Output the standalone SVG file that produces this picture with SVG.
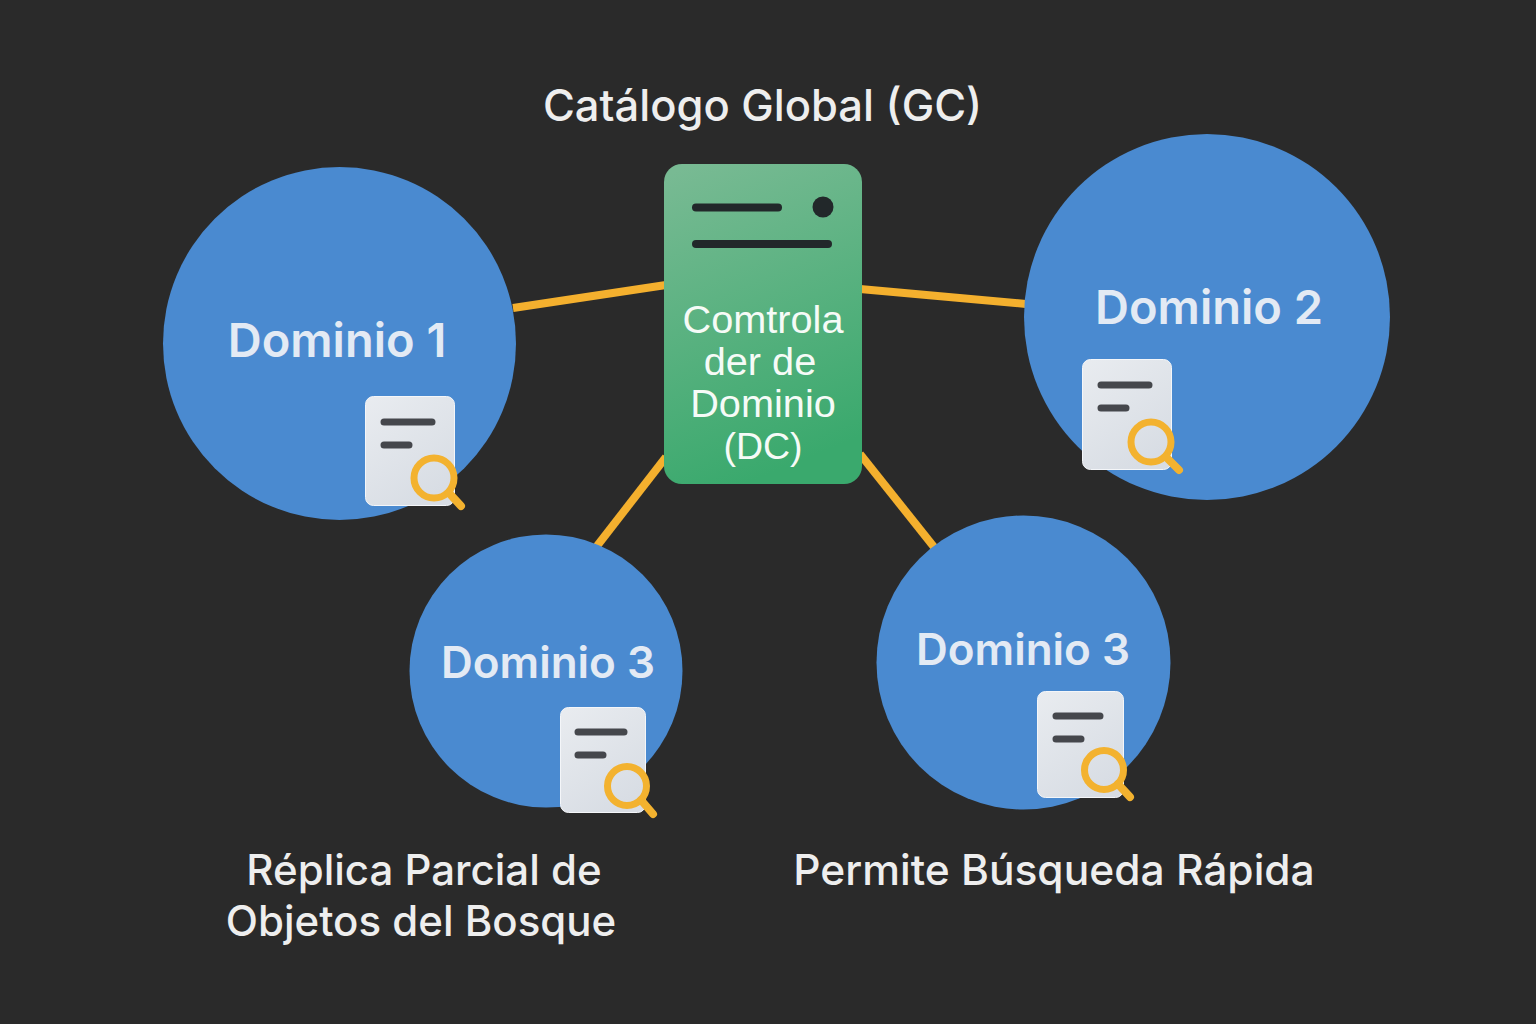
<svg xmlns="http://www.w3.org/2000/svg" width="1536" height="1024" viewBox="0 0 1536 1024">
<style>
text{font-family:Inter,"Noto Sans",sans-serif;text-anchor:middle}
.c{fill:#4a8ad0}
.d{fill:#e3eaf4;font-size:47px;font-weight:600}
.s{font-size:44px}
.l{fill:#eeeeee;font-size:42px;font-weight:500}
.w{fill:#f6fbf7;font-size:39.7px;font-family:"Liberation Sans",Arial,sans-serif}
.p{fill:url(#q);stroke:#f4f6f9;stroke-width:1}
.b{stroke:#45474c;stroke-width:7;stroke-linecap:round;fill:none}
.m{stroke:#f3b22f;stroke-width:8;fill:none;stroke-linecap:round}
.e{stroke:#f3b22f;stroke-width:7;fill:none}
.k{stroke:#22282a;stroke-width:8;stroke-linecap:round}
</style>
<defs>
<linearGradient id="g" x1="0.15" y1="0" x2="0.4" y2="1"><stop offset="0" stop-color="#78ba93"/><stop offset="1" stop-color="#3aa96d"/></linearGradient>
<linearGradient id="q" x1="0" y1="0" x2="0.6" y2="1"><stop offset="0" stop-color="#e9ecf0"/><stop offset="1" stop-color="#d8dde4"/></linearGradient>
</defs>
<rect width="1536" height="1024" fill="#2a2a2a"/>
<g id="connectors" stroke="#f4b02e" stroke-width="8" fill="none">
<line x1="513" y1="308" x2="666" y2="285"/>
<line x1="860" y1="289" x2="1026" y2="304"/>
<line x1="597" y1="546" x2="666" y2="457"/>
<line x1="860" y1="454" x2="934" y2="547"/>
</g>
<text class="l" x="762.500" y="121" style="font-size:43.500px">Catálogo Global (GC)</text>
<g id="dc">
<rect x="664" y="164" width="198" height="320" rx="18" fill="url(#g)"/>
<line class="k" x1="696" y1="207.500" x2="778" y2="207.500"/>
<line class="k" x1="696" y1="244" x2="828" y2="244"/>
<circle cx="823" cy="207" r="10.500" fill="#22282a"/>
<text class="w" x="763" y="333">Comtrola</text>
<text class="w" x="760" y="375">der de</text>
<text class="w" x="763" y="417">Dominio</text>
<text class="w" x="763" y="459" style="font-size:37.500px">(DC)</text>
</g>
<g id="d1">
<circle class="c" cx="339.500" cy="343.500" r="176.500"/>
<text class="d" x="337" y="357">Dominio 1</text>
<rect class="p" x="365.500" y="396.500" width="89" height="109" rx="8"/>
<path class="b" d="M384 422H432M384 445H409"/>
<circle class="e" cx="434" cy="478" r="20"/>
<line class="m" x1="449" y1="493" x2="461" y2="506"/>
</g>
<g id="d2">
<circle class="c" cx="1207" cy="317" r="183"/>
<text class="d" x="1209" y="324">Dominio 2</text>
<rect class="p" x="1082.500" y="359.500" width="89" height="110" rx="8"/>
<path class="b" d="M1101 385H1149M1101 408H1126"/>
<circle class="e" cx="1151" cy="442" r="20"/>
<line class="m" x1="1166" y1="457" x2="1179" y2="470"/>
</g>
<g id="d3a">
<circle class="c" cx="546" cy="671" r="136.500"/>
<text class="d s" x="548" y="678">Dominio 3</text>
<rect class="p" x="560.500" y="707.500" width="85" height="105" rx="8"/>
<path class="b" d="M578 732H624M578 755H603"/>
<circle class="e" cx="627" cy="786" r="19.500"/>
<line class="m" x1="641" y1="800" x2="653" y2="814"/>
</g>
<g id="d3b">
<circle class="c" cx="1023.500" cy="662.500" r="147"/>
<text class="d s" x="1023" y="665">Dominio 3</text>
<rect class="p" x="1037.500" y="691.500" width="86" height="106" rx="8"/>
<path class="b" d="M1056 716H1100M1056 739H1081"/>
<circle class="e" cx="1104" cy="770" r="19.500"/>
<line class="m" x1="1118" y1="784" x2="1130" y2="797"/>
</g>
<text class="l" x="424" y="885">Réplica Parcial de</text>
<text class="l" x="421" y="936">Objetos del Bosque</text>
<text class="l" x="1054" y="885" style="font-size:42.500px">Permite Búsqueda Rápida</text>
</svg>
